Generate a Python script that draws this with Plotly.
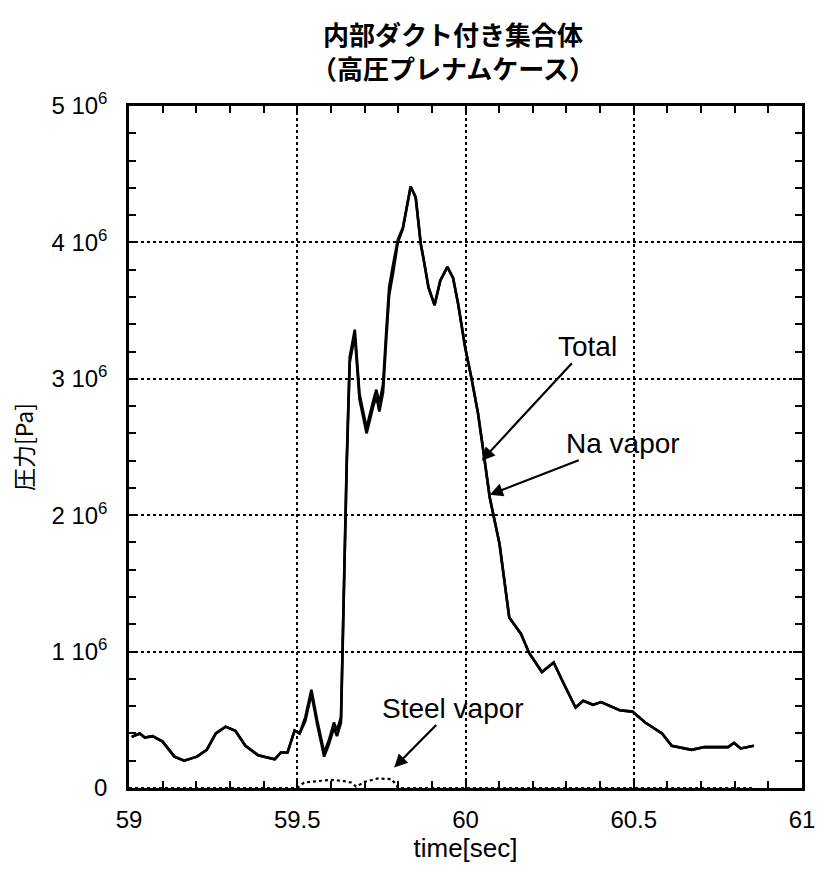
import plotly.graph_objects as go

# Time axis [sec] shared by the Total and Na vapor pressure traces
time_s = [59.008, 59.032, 59.047, 59.070, 59.100, 59.135, 59.164, 59.202, 59.231, 59.258,
          59.287, 59.316, 59.346, 59.384, 59.433, 59.451, 59.471, 59.492, 59.507, 59.524,
          59.542, 59.559, 59.580, 59.594, 59.609, 59.618, 59.630, 59.635, 59.647, 59.656,
          59.671, 59.685, 59.706, 59.726, 59.735, 59.744, 59.755, 59.764, 59.773, 59.785,
          59.799, 59.814, 59.829, 59.837, 59.852, 59.867, 59.876, 59.890, 59.908, 59.925,
          59.946, 59.963, 59.978, 59.999, 60.019, 60.037, 60.057, 60.072, 60.101, 60.116,
          60.130, 60.165, 60.189, 60.227, 60.262, 60.291, 60.327, 60.350, 60.379, 60.403,
          60.458, 60.496, 60.534, 60.584, 60.613, 60.672, 60.710, 60.780, 60.798, 60.818,
          60.857]

# Total pressure [MPa]
total_mpa = [0.375, 0.40, 0.37, 0.38, 0.34, 0.23, 0.20, 0.23, 0.28, 0.40,
             0.45, 0.42, 0.31, 0.24, 0.21, 0.26, 0.26, 0.42, 0.40, 0.52,
             0.72, 0.50, 0.26, 0.35, 0.48, 0.42, 0.52, 1.10, 2.40, 3.16,
             3.36, 2.89, 2.64, 2.84, 2.92, 2.82, 2.96, 3.33, 3.67, 3.84,
             4.02, 4.11, 4.31, 4.41, 4.33, 3.99, 3.87, 3.67, 3.54, 3.72,
             3.82, 3.74, 3.55, 3.23, 2.99, 2.75, 2.40, 2.13, 1.79, 1.52,
             1.25, 1.13, 0.99, 0.85, 0.92, 0.77, 0.59, 0.64, 0.61, 0.63,
             0.57, 0.56, 0.48, 0.40, 0.31, 0.28, 0.30, 0.30, 0.33, 0.29,
             0.31]

# Na vapor partial pressure [MPa]
na_vapor_mpa = [0.375, 0.40, 0.37, 0.38, 0.34, 0.23, 0.20, 0.23, 0.28, 0.40,
                0.45, 0.42, 0.31, 0.24, 0.21, 0.26, 0.26, 0.42, 0.40, 0.49,
                0.69, 0.47, 0.23, 0.32, 0.44, 0.38, 0.48, 1.06, 2.36, 3.12,
                3.32, 2.85, 2.60, 2.80, 2.87, 2.76, 2.90, 3.27, 3.61, 3.78,
                4.00, 4.10, 4.30, 4.41, 4.33, 3.99, 3.87, 3.67, 3.54, 3.72,
                3.82, 3.74, 3.55, 3.23, 2.99, 2.75, 2.40, 2.13, 1.79, 1.52,
                1.25, 1.13, 0.99, 0.85, 0.92, 0.77, 0.59, 0.64, 0.61, 0.63,
                0.57, 0.56, 0.48, 0.40, 0.31, 0.28, 0.30, 0.30, 0.33, 0.29,
                0.31]

# Steel vapor partial pressure
steel_time_s = [59.0, 59.500, 59.520, 59.560, 59.600, 59.640, 59.660, 59.675, 59.700,
                59.740, 59.780, 59.795, 59.800, 60.857]
steel_vapor_mpa = [0.0, 0.0, 0.04, 0.05, 0.06, 0.05, 0.04, 0.01, 0.045,
                   0.07, 0.065, 0.02, 0.0, 0.0]

y_tick_vals = [0, 1e6, 2e6, 3e6, 4e6, 5e6]
y_tick_text = ["0", "1 10<sup>6</sup>", "2 10<sup>6</sup>", "3 10<sup>6</sup>",
               "4 10<sup>6</sup>", "5 10<sup>6</sup>"]
x_tick_vals = [59, 59.5, 60, 60.5, 61]
x_tick_text = ["59", "59.5", "60", "60.5", "61"]

FONT = "Liberation Sans, Arial, sans-serif"
JP_FONT = "Noto Sans CJK JP, sans-serif"

fig = go.Figure()
fig.add_trace(go.Scatter(x=steel_time_s, y=[v * 1e6 for v in steel_vapor_mpa], mode="lines",
                         line=dict(color="black", width=2.2, dash="dot"), name="Steel vapor"))
fig.add_trace(go.Scatter(x=time_s, y=[v * 1e6 for v in na_vapor_mpa], mode="lines",
                         line=dict(color="black", width=2.6), name="Na vapor"))
fig.add_trace(go.Scatter(x=time_s, y=[v * 1e6 for v in total_mpa], mode="lines",
                         line=dict(color="black", width=2.6), name="Total"))

arrow_style = dict(showarrow=True, arrowhead=2, arrowsize=1.2, arrowwidth=2.2,
                   arrowcolor="black", xref="x", yref="y", axref="x", ayref="y",
                   font=dict(family=FONT, size=28, color="black"))
fig.add_annotation(text="Total", x=60.048, y=2.40e6, ax=60.363, ay=3.238e6, **arrow_style)
fig.add_annotation(text="Na vapor", x=60.072, y=2.15e6, ax=60.467, ay=2.527e6, **arrow_style)
fig.add_annotation(text="Steel vapor", x=59.788, y=0.15e6, ax=59.963, ay=0.586e6, **arrow_style)

# Two-line Japanese title
fig.add_annotation(text="<b>内部ダクト付き集合体<br>（高圧プレナムケース）</b>",
                   xref="paper", yref="paper", align="center",
                   x=(458 - 129) / 683, y=1.0 + (106 - 50) / 682, showarrow=False,
                   yanchor="middle", font=dict(family=JP_FONT, size=26, color="black"))

fig.update_xaxes(range=[59, 61], tickvals=x_tick_vals, ticktext=x_tick_text,
                 showline=True, linecolor="black", linewidth=2.5, mirror="ticks",
                 ticks="inside", ticklen=9, tickwidth=1.5, tickcolor="black",
                 minor=dict(dtick=0.1, ticks="inside", ticklen=7, tickwidth=1.5,
                            tickcolor="black", showgrid=False),
                 showgrid=True, gridcolor="black", griddash="dot", gridwidth=1.5,
                 zeroline=False, ticklabelstandoff=8,
                 tickfont=dict(family=FONT, size=24, color="black"),
                 title=dict(text="time[sec]", font=dict(family=FONT, size=26, color="black"),
                            standoff=6))
fig.update_yaxes(range=[0, 5e6], tickvals=y_tick_vals, ticktext=y_tick_text,
                 showline=True, linecolor="black", linewidth=2.5, mirror="ticks",
                 ticks="inside", ticklen=9, tickwidth=1.5, tickcolor="black",
                 minor=dict(dtick=2e5, tick0=0, ticks="inside", ticklen=7, tickwidth=1.5,
                            tickcolor="black", showgrid=False),
                 showgrid=True, gridcolor="black", griddash="dot", gridwidth=1.5,
                 zeroline=False, ticklabelstandoff=14,
                 tickfont=dict(family=FONT, size=24, color="black"),
                 title=dict(text="圧力[Pa]", font=dict(family=JP_FONT, size=23, color="black"),
                            standoff=12))

fig.update_layout(width=827, height=878, showlegend=False,
                  paper_bgcolor="white", plot_bgcolor="white",
                  margin=dict(l=129, r=15, t=106, b=90))

fig.write_html("out.html")
